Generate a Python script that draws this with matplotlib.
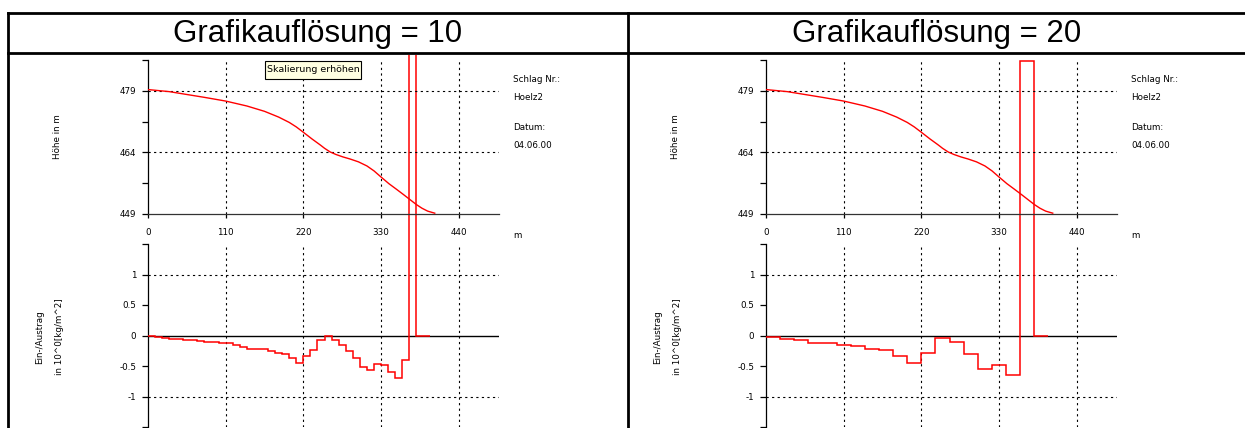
import numpy as np
import matplotlib.pyplot as plt
from matplotlib.patches import Rectangle

W, H = 1245, 428

# Hoehenprofil: Strecke in m, Hoehe in m
profil_x = [0, 30, 55, 80, 110, 140, 165, 185, 200, 210, 220, 232, 244, 250, 258, 266,
            276, 286, 298, 310, 320, 330, 341, 352, 362, 371, 380, 388, 396, 406]
profil_h = [479.3, 478.8, 478.1, 477.4, 476.5, 475.3, 474.0, 472.6, 471.3, 470.2,
            468.9, 467.3, 465.8, 465.0, 464.1, 463.5, 462.9, 462.4, 461.7, 460.7,
            459.5, 458.0, 456.4, 455.0, 453.7, 452.5, 451.3, 450.4, 449.7, 449.2]

# Ein-/Austrag je Abschnitt (Grafikaufloesung 10 m)
kanten_10 = np.arange(0, 410, 10)
austrag_10 = [-0.01, -0.03, -0.04, -0.05, -0.06, -0.07, -0.08, -0.09, -0.10, -0.11,
              -0.12, -0.13, -0.16, -0.19, -0.22, -0.22, -0.22, -0.25, -0.28, -0.31,
              -0.37, -0.45, -0.33, -0.23, -0.07, 0.0, -0.07, -0.15, -0.25, -0.37,
              -0.52, -0.57, -0.47, -0.49, -0.60, -0.70, -0.40, 9.0, 0.0, 0.0]

# Ein-/Austrag je Abschnitt (Grafikaufloesung 20 m)
kanten_20 = np.arange(0, 420, 20)
austrag_20 = [-0.02, -0.05, -0.08, -0.12, -0.13, -0.15, -0.18, -0.225, -0.24, -0.33,
              -0.45, -0.28, -0.04, -0.10, -0.31, -0.55, -0.49, -0.65, 4.5, 0.0]

titel = ["Grafikauflösung = 10", "Grafikauflösung = 20"]
x_ticks = [0, 110, 220, 330, 440]
h_ticks = [449, 456.5, 464, 471.5, 479, 486.5]
h_labels = ["449", "", "464", "", "479", ""]
a_ticks = [-1.5, -1, -0.5, 0, 0.5, 1, 1.5]
a_labels = ["", "-1", "-0.5", "0", "0.5", "1", ""]

fig = plt.figure(figsize=(W / 100, H / 100), dpi=100)
small = dict(family="DejaVu Sans", fontsize=6.3)


def rect(x0, y_top, w, h):
    return [x0 / W, 1 - (y_top + h) / H, w / W, h / H]


def fx(x):
    return x / W


def fy(y):
    return 1 - y / H


dash = (0, (2, 3))

# Tabellenrahmen
fig.add_artist(plt.Line2D([fx(8), 1], [fy(13), fy(13)], color="black", lw=2))
fig.add_artist(plt.Line2D([fx(8), 1], [fy(53), fy(53)], color="black", lw=2))
fig.add_artist(plt.Line2D([fx(8), fx(8)], [fy(13), 0], color="black", lw=2))
fig.add_artist(plt.Line2D([fx(628), fx(628)], [fy(13), 0], color="black", lw=2))

panels = [(148, 8, 628, kanten_10, austrag_10), (766, 628, W, kanten_20, austrag_20)]

for i, (x0, left, right, kanten, werte) in enumerate(panels):
    fig.text(fx((left + right) / 2), fy(34), titel[i], ha="center", va="center",
             family="Liberation Sans", fontsize=22.5)

    # unteres Diagramm: Ein-/Austrag
    ax2 = fig.add_axes(rect(x0, 244, 351, 183))
    ax2.set_xlim(0, 497)
    ax2.set_ylim(-1.5, 1.5)
    ax2.patch.set_visible(False)
    for s in ["top", "right", "bottom"]:
        ax2.spines[s].set_visible(False)
    ax2.spines["left"].set_linewidth(0.9)
    ax2.set_xticks([])
    ax2.set_yticks(a_ticks)
    ax2.set_yticklabels(a_labels, **small)
    ax2.tick_params(axis="y", length=4.5, width=0.9, pad=4)
    ax2.axhline(0, color="black", lw=1, zorder=1)
    for yv in [-1, 1]:
        ax2.axhline(yv, color="black", lw=0.8, ls=dash, zorder=1)
    for xv in x_ticks[1:]:
        ax2.axvline(xv, color="black", lw=0.8, ls=dash, zorder=1)
    st = ax2.stairs(werte, kanten, baseline=None, color="red", lw=1.1, zorder=3)
    st.set_clip_path(Rectangle((fx(left), 0), fx(right) - fx(left), fy(55),
                               transform=fig.transFigure))

    # oberes Diagramm: Hoehenprofil
    ax1 = fig.add_axes(rect(x0, 60, 351, 154))
    ax1.set_xlim(0, 497)
    ax1.set_ylim(449, 486.5)
    ax1.patch.set_visible(False)
    ax1.spines["top"].set_visible(False)
    ax1.spines["right"].set_visible(False)
    ax1.spines["left"].set_linewidth(0.9)
    ax1.spines["bottom"].set_linewidth(0.9)
    ax1.spines["bottom"].set_color("#333333")
    ax1.set_xticks(x_ticks)
    ax1.set_xticklabels([str(v) for v in x_ticks], **small)
    ax1.set_yticks(h_ticks)
    ax1.set_yticklabels(h_labels, **small)
    ax1.tick_params(axis="y", length=4.5, width=0.9, pad=4)
    ax1.tick_params(axis="x", length=3, width=0.9, pad=7)
    for yv in [464, 479]:
        ax1.axhline(yv, color="black", lw=0.8, ls=dash, zorder=1)
    for xv in x_ticks[1:]:
        ax1.axvline(xv, color="black", lw=0.8, ls=dash, zorder=1)
    ax1.plot(profil_x, profil_h, color="red", lw=1, zorder=3)

    # Beschriftungen
    fig.text(fx(x0 - 90), fy(137), "Höhe in m", rotation=90, ha="center",
             va="center", **small)
    fig.text(fx(x0 - 108), fy(337), "Ein-/Austrag", rotation=90, ha="center",
             va="center", **small)
    fig.text(fx(x0 - 88), fy(337), "in 10^0[kg/m^2]", rotation=90, ha="center",
             va="center", **small)
    fig.text(fx(x0 + 365), fy(236), "m", ha="left", va="center", **small)
    for txt, yy in [("Schlag Nr.:", 79), ("Hoelz2", 98), ("Datum:", 127),
                    ("04.06.00", 146)]:
        fig.text(fx(x0 + 365), fy(yy), txt, ha="left", va="center", **small)

# Tooltip im linken Diagramm
fig.add_artist(Rectangle((fx(265), fy(79)), fx(96), 18 / H, transform=fig.transFigure,
                         facecolor="#ffffe1", edgecolor="black", lw=0.8))
fig.text(fx(313), fy(70), "Skalierung erhöhen", ha="center", va="center",
         family="DejaVu Sans", fontsize=6.8)

fig.savefig("out.png", dpi=100)
